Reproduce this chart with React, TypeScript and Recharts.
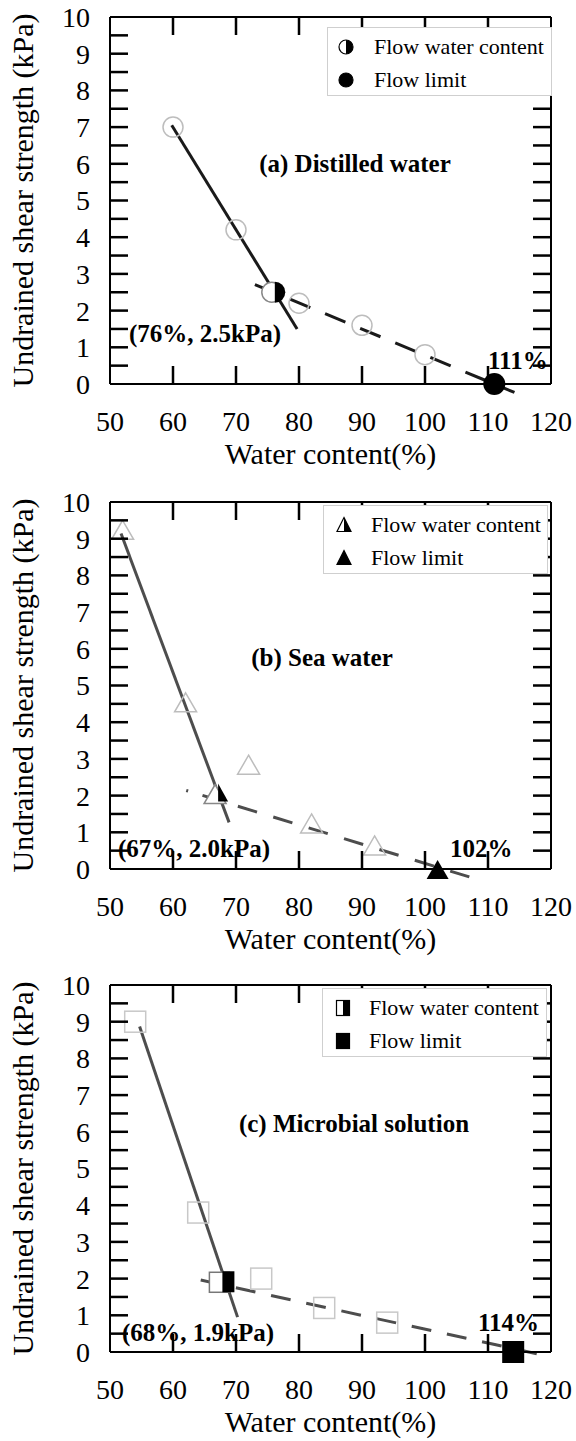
import { ScatterChart, Scatter, XAxis, YAxis, ReferenceLine, Legend } from 'recharts'

const FONT = '"Liberation Serif", "Times New Roman", Times, serif'

const X_TICKS = [50, 60, 70, 80, 90, 100, 110, 120]
const Y_TICKS = [0, 1, 2, 3, 4, 5, 6, 7, 8, 9, 10]
const Y_MINOR_TICKS = [0.5, 1, 1.5, 2, 2.5, 3, 3.5, 4, 4.5, 5, 5.5, 6, 6.5, 7, 7.5, 8, 8.5, 9, 9.5]
const X_INNER_TICKS = [60, 70, 80, 90, 100, 110]
const LEGEND_LABELS = ['Flow water content', 'Flow limit']

// (a) distilled water
const distilledPoints = [
  { x: 60, y: 7.0 },
  { x: 70, y: 4.2 },
  { x: 80, y: 2.2 },
  { x: 90, y: 1.6 },
  { x: 100, y: 0.8 },
]
const distilledFlowWater = [{ x: 76, y: 2.5 }]
const distilledFlowLimit = [{ x: 111, y: 0 }]
const distilledSteep = [{ x: 59.8, y: 7.05 }, { x: 79.7, y: 1.5 }]
const distilledGentle = [{ x: 73, y: 2.71 }, { x: 114.2, y: -0.23 }]

// (b) sea water
const seaPoints = [
  { x: 52, y: 9.2 },
  { x: 62, y: 4.5 },
  { x: 72, y: 2.8 },
  { x: 82, y: 1.2 },
  { x: 92, y: 0.6 },
]
const seaFlowWater = [{ x: 67, y: 2.0 }]
const seaFlowLimit = [{ x: 102, y: 0 }]
const seaSteep = [{ x: 51.75, y: 9.14 }, { x: 68.9, y: 1.27 }]
const seaGentle = [{ x: 62.1, y: 2.14 }, { x: 107.5, y: -0.24 }]

// (c) microbial solution
const microbialPoints = [
  { x: 54, y: 9.0 },
  { x: 64, y: 3.8 },
  { x: 74, y: 2.0 },
  { x: 84, y: 1.2 },
  { x: 94, y: 0.8 },
]
const microbialFlowWater = [{ x: 68, y: 1.9 }]
const microbialFlowLimit = [{ x: 114, y: 0 }]
const microbialSteep = [{ x: 54.7, y: 8.87 }, { x: 70.25, y: 0.95 }]
const microbialGentle = [{ x: 64.4, y: 1.96 }, { x: 119.7, y: -0.12 }]

// frame tick positions, drawn as inward marks on the data scales
const bottomTicks = X_INNER_TICKS.map(x => ({ x, y: 0 }))
const topTicks = X_INNER_TICKS.map(x => ({ x, y: 10 }))
const leftTicks = Y_MINOR_TICKS.map(y => ({ x: 50, y }))
const rightTicks = Y_MINOR_TICKS.map(y => ({ x: 120, y }))

type Kind = 'circle' | 'triangle' | 'square'
type Variant = 'open' | 'half' | 'limit'

const OPEN_GRAY = '#bdbdbd'
const TICK_LEN = 18

function Mark({ kind, variant, cx, cy }: { kind: Kind; variant: Variant; cx: number; cy: number }) {
  if (kind === 'circle') {
    if (variant === 'limit') return <circle cx={cx} cy={cy} r={11} fill="#000" />
    if (variant === 'open') return <circle cx={cx} cy={cy} r={10} fill="none" stroke={OPEN_GRAY} strokeWidth={1.5} />
    return (
      <g>
        <circle cx={cx - 2} cy={cy} r={10} fill="#fff" stroke="#888" strokeWidth={1.5} />
        <path d={`M${cx + 1} ${cy - 10.5} A10.5 10.5 0 0 1 ${cx + 1} ${cy + 10.5} Z`} fill="#000" />
      </g>
    )
  }
  if (kind === 'triangle') {
    if (variant === 'limit')
      return <polygon points={`${cx},${cy - 9} ${cx + 11},${cy + 10} ${cx - 11},${cy + 10}`} fill="#000" />
    if (variant === 'open')
      return (
        <polygon
          points={`${cx},${cy - 11} ${cx + 11},${cy + 8} ${cx - 11},${cy + 8}`}
          fill="none"
          stroke={OPEN_GRAY}
          strokeWidth={1.5}
        />
      )
    return (
      <g>
        <polygon
          points={`${cx - 2},${cy - 11} ${cx + 9},${cy + 8} ${cx - 13},${cy + 8}`}
          fill="#fff"
          stroke="#888"
          strokeWidth={1.5}
        />
        <polygon points={`${cx + 1},${cy - 12} ${cx + 11},${cy + 6} ${cx + 1},${cy + 6}`} fill="#000" />
      </g>
    )
  }
  if (variant === 'limit') return <rect x={cx - 11} y={cy - 11} width={22} height={22} fill="#000" />
  if (variant === 'open')
    return <rect x={cx - 10.5} y={cy - 10.5} width={21} height={21} fill="none" stroke="#c8c8c8" strokeWidth={1.5} />
  return (
    <g>
      <rect x={cx - 14} y={cy - 10} width={20} height={20} fill="#fff" stroke="#777" strokeWidth={1.5} />
      <rect x={cx - 1} y={cy - 11} width={12} height={21} fill="#000" />
    </g>
  )
}

// a filled bar pointing into the plot from the frame
function tickShape(dx: number, dy: number) {
  return (s: any) => {
    const w = dx !== 0 ? TICK_LEN : 2.5
    const h = dy !== 0 ? TICK_LEN : 2.5
    const x = dx > 0 ? s.cx : dx < 0 ? s.cx - TICK_LEN : s.cx - 1.25
    const y = dy > 0 ? s.cy : dy < 0 ? s.cy - TICK_LEN : s.cy - 1.25
    return <rect x={x} y={y} width={w} height={h} fill="#000" />
  }
}

function LegendIcon({ kind, filled }: { kind: Kind; filled: boolean }) {
  return (
    <svg width={18} height={18} style={{ display: 'block' }}>
      {kind === 'circle' && (
        <g>
          <circle cx={9} cy={9} r={7} fill={filled ? '#000' : '#fff'} stroke="#000" strokeWidth={1.2} />
          {!filled && <path d="M9 2 A7 7 0 0 1 9 16 Z" fill="#000" />}
        </g>
      )}
      {kind === 'triangle' && (
        <g>
          <polygon points="9,1.5 16,15.5 2,15.5" fill={filled ? '#000' : '#fff'} stroke="#000" strokeWidth={1.2} />
          {!filled && <polygon points="9,1.5 16,15.5 9,15.5" fill="#000" />}
        </g>
      )}
      {kind === 'square' && (
        <g>
          <rect x={2.5} y={1.5} width={13} height={15} fill={filled ? '#000' : '#fff'} stroke="#000" strokeWidth={1.2} />
          {!filled && <rect x={9} y={1.5} width={6.5} height={15} fill="#000" />}
        </g>
      )}
    </svg>
  )
}

function LegendBox({ kind, markerX, textX }: { kind: Kind; markerX: number; textX: number }) {
  return (
    <div
      style={{
        width: 225,
        height: 69,
        boxSizing: 'border-box',
        border: '1px solid #cfcfcf',
        background: '#fff',
        position: 'relative',
        fontFamily: FONT,
        fontSize: 22,
        color: '#000',
      }}
    >
      {LEGEND_LABELS.map((label, i) => (
        <div key={label} style={{ position: 'absolute', top: 3 + i * 33, left: 0, height: 32, width: '100%' }}>
          <div style={{ position: 'absolute', left: markerX - 9, top: 7 }}>
            <LegendIcon kind={kind} filled={i === 1} />
          </div>
          <div style={{ position: 'absolute', left: textX, top: 0, lineHeight: '32px', whiteSpace: 'nowrap' }}>
            {label}
          </div>
        </div>
      ))}
    </div>
  )
}

const PANELS = [
  {
    key: 'a',
    top: 0,
    kind: 'circle' as Kind,
    title: '(a) Distilled water',
    titleX: 355,
    titleY: 163,
    lineColor: '#1a1a1a',
    dash: '22 16',
    points: distilledPoints,
    flowWater: distilledFlowWater,
    flowLimit: distilledFlowLimit,
    steep: distilledSteep,
    gentle: distilledGentle,
    flowLabel: '(76%, 2.5kPa)',
    flowLabelX: 129,
    flowLabelY: 333,
    limitLabel: '111%',
    limitLabelX: 488,
    limitLabelY: 360,
    legendLeft: 327,
    legendTop: 27,
    markerX: 18,
    textX: 46,
  },
  {
    key: 'b',
    top: 485,
    kind: 'triangle' as Kind,
    title: '(b) Sea water',
    titleX: 322,
    titleY: 172,
    lineColor: '#4d4d4d',
    dash: '2 15 ' + '20 17 '.repeat(14).trim(),
    points: seaPoints,
    flowWater: seaFlowWater,
    flowLimit: seaFlowLimit,
    steep: seaSteep,
    gentle: seaGentle,
    flowLabel: '(67%, 2.0kPa)',
    flowLabelX: 118,
    flowLabelY: 363,
    limitLabel: '102%',
    limitLabelX: 450,
    limitLabelY: 363,
    legendLeft: 323,
    legendTop: 20,
    markerX: 20,
    textX: 47,
  },
  {
    key: 'c',
    top: 968,
    kind: 'square' as Kind,
    title: '(c) Microbial solution',
    titleX: 354,
    titleY: 155,
    lineColor: '#4d4d4d',
    dash: '20 16',
    points: microbialPoints,
    flowWater: microbialFlowWater,
    flowLimit: microbialFlowLimit,
    steep: microbialSteep,
    gentle: microbialGentle,
    flowLabel: '(68%, 1.9kPa)',
    flowLabelX: 122,
    flowLabelY: 364,
    limitLabel: '114%',
    limitLabelX: 478,
    limitLabelY: 354,
    legendLeft: 322,
    legendTop: 20,
    markerX: 20,
    textX: 46,
  },
]

type Panel = (typeof PANELS)[number]

const tickFont = { fontSize: 28, fill: '#000', fontFamily: FONT }
const boldText = { fontSize: 25, fontWeight: 700, fill: '#000', fontFamily: FONT }
const black2 = { stroke: '#000', strokeWidth: 2 }

function PanelChart({ p }: { p: Panel }) {
  const kind = p.kind
  return (
    <ScatterChart width={576} height={473} margin={{ top: 17, right: 25, bottom: 0, left: 0 }}>
      <XAxis
        xAxisId="x"
        dataKey="x"
        type="number"
        domain={[50, 120]}
        ticks={X_TICKS}
        interval={0}
        tickSize={0}
        tickMargin={27}
        tickLine={false}
        tick={tickFont}
        axisLine={black2}
        height={89}
        label={{
          value: 'Water content(%)',
          position: 'insideBottom',
          offset: 9,
          style: { fontSize: 30, fill: '#000', fontFamily: FONT },
        }}
      />
      {/* top and right frame lines */}
      <XAxis
        xAxisId="xt"
        orientation="top"
        type="number"
        domain={[50, 120]}
        allowDataOverflow
        mirror
        tick={false}
        tickLine={false}
        axisLine={black2}
      />
      <YAxis
        yAxisId="y"
        dataKey="y"
        type="number"
        domain={[0, 10]}
        ticks={Y_TICKS}
        interval={0}
        width={110}
        tickSize={0}
        tickMargin={20}
        tickLine={false}
        tick={tickFont}
        axisLine={black2}
        label={{
          value: 'Undrained shear strength (kPa)',
          angle: -90,
          position: 'insideLeft',
          offset: 22,
          textAnchor: 'middle',
          style: { fontSize: 30, fill: '#000', fontFamily: FONT, textAnchor: 'middle' },
        }}
      />
      <YAxis
        yAxisId="yr"
        orientation="right"
        type="number"
        domain={[0, 10]}
        allowDataOverflow
        mirror
        tick={false}
        tickLine={false}
        axisLine={black2}
      />

      <Scatter
        xAxisId="x"
        yAxisId="y"
        data={p.points}
        isAnimationActive={false}
        shape={(s: any) => <Mark kind={kind} variant="open" cx={s.cx} cy={s.cy} />}
      />

      <ReferenceLine
        xAxisId="x"
        yAxisId="y"
        segment={p.steep}
        ifOverflow="visible"
        stroke={p.lineColor}
        strokeWidth={3}
      />
      <ReferenceLine
        xAxisId="x"
        yAxisId="y"
        segment={p.gentle}
        ifOverflow="visible"
        stroke={p.lineColor}
        strokeWidth={3}
        strokeDasharray={p.dash}
      />

      <Scatter
        xAxisId="x"
        yAxisId="y"
        data={p.flowWater}
        isAnimationActive={false}
        shape={(s: any) => <Mark kind={kind} variant="half" cx={s.cx} cy={s.cy} />}
      />
      <Scatter
        xAxisId="x"
        yAxisId="y"
        data={p.flowLimit}
        isAnimationActive={false}
        shape={(s: any) => <Mark kind={kind} variant="limit" cx={s.cx} cy={s.cy} />}
      />

      {/* inward frame ticks, drawn last */}
      <Scatter xAxisId="x" yAxisId="y" data={bottomTicks} isAnimationActive={false} shape={tickShape(0, -1)} legendType="none" />
      <Scatter xAxisId="x" yAxisId="y" data={topTicks} isAnimationActive={false} shape={tickShape(0, 1)} legendType="none" />
      <Scatter xAxisId="x" yAxisId="y" data={leftTicks} isAnimationActive={false} shape={tickShape(1, 0)} legendType="none" />
      <Scatter xAxisId="x" yAxisId="y" data={rightTicks} isAnimationActive={false} shape={tickShape(-1, 0)} legendType="none" />

      <text x={p.titleX} y={p.titleY} dy="0.35em" textAnchor="middle" style={boldText}>
        {p.title}
      </text>
      <text x={p.flowLabelX} y={p.flowLabelY} dy="0.35em" style={boldText}>
        {p.flowLabel}
      </text>
      <text x={p.limitLabelX} y={p.limitLabelY} dy="0.35em" style={boldText}>
        {p.limitLabel}
      </text>

      <Legend
        layout="vertical"
        align="center"
        verticalAlign="middle"
        wrapperStyle={{ left: p.legendLeft, top: p.legendTop, width: 225, height: 69 }}
        content={() => <LegendBox kind={kind} markerX={p.markerX} textX={p.textX} />}
      />
    </ScatterChart>
  )
}

export default function App() {
  return (
    <div style={{ position: 'absolute', left: 0, top: 0, width: 576, height: 1441, background: '#fff', overflow: 'hidden' }}>
      {PANELS.map(p => (
        <div key={p.key} style={{ position: 'absolute', left: 0, top: p.top, width: 576, height: 473 }}>
          <PanelChart p={p} />
        </div>
      ))}
    </div>
  )
}
